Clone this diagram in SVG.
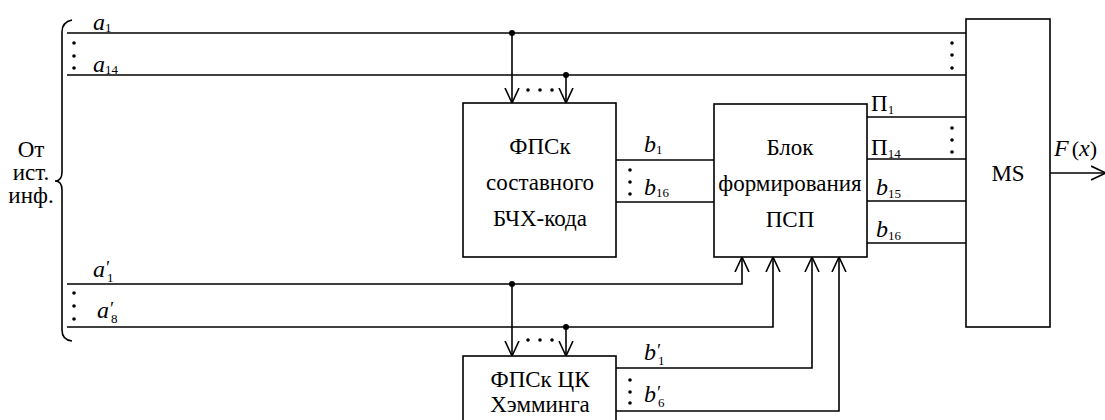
<svg xmlns="http://www.w3.org/2000/svg" width="1105" height="420" viewBox="0 0 1105 420">
<style>
.ln{fill:none;stroke:#000;stroke-width:1.6}
.box{fill:#fff;stroke:#000;stroke-width:1.6}
.t{font-family:"Liberation Serif","DejaVu Serif","Times New Roman",serif;font-size:23px;fill:#000}
.v{font-family:"Liberation Serif","DejaVu Serif","Times New Roman",serif;font-style:italic;font-size:24px;fill:#000}
.s{font-style:normal;font-size:13px}
.p{font-size:18px}
.d{fill:#000}
</style>
<defs>
<marker id="ar" viewBox="0 0 16 16" refX="15" refY="8" markerWidth="16" markerHeight="16" markerUnits="userSpaceOnUse" orient="auto">
<path d="M0,1 L15,8 L0,15" fill="none" stroke="#000" stroke-width="1.6"/>
</marker>
</defs>

<g id="brace">
<path class="ln" stroke-width="2" d="M72,20 Q62,22 62,32 L62,172 Q62,181 55,181 Q62,181 62,190 L62,330 Q62,340 72,341"/>
<text class="t" x="31" y="157" text-anchor="middle" font-size="22">От</text>
<text class="t" x="31" y="180" text-anchor="middle" font-size="22">ист.</text>
<text class="t" x="31" y="203" text-anchor="middle" font-size="22">инф.</text>
</g>

<g id="connectors">
<path class="ln" d="M67,33 H966"/>
<path class="ln" d="M67,75 H966"/>
<path class="ln" d="M512,33 V103" marker-end="url(#ar)"/>
<path class="ln" d="M566,75 V103" marker-end="url(#ar)"/>
<circle class="d" cx="512" cy="33" r="3"/>
<circle class="d" cx="566" cy="75" r="3"/>
<path class="ln" d="M616,160 H714"/>
<path class="ln" d="M616,202 H714"/>
<path class="ln" d="M867,117 H966"/>
<path class="ln" d="M867,159 H966"/>
<path class="ln" d="M867,201 H966"/>
<path class="ln" d="M867,243 H966"/>
<path class="ln" d="M67,284 H742 V257" marker-end="url(#ar)"/>
<path class="ln" d="M67,327 H773 V257" marker-end="url(#ar)"/>
<path class="ln" d="M512,284 V356" marker-end="url(#ar)"/>
<path class="ln" d="M566,327 V356" marker-end="url(#ar)"/>
<circle class="d" cx="512" cy="284" r="3"/>
<circle class="d" cx="566" cy="327" r="3"/>
<path class="ln" d="M616,368 H812 V257" marker-end="url(#ar)"/>
<path class="ln" d="M616,411 H839 V257" marker-end="url(#ar)"/>
<path class="ln" d="M1050,173 H1106" marker-end="url(#ar)"/>
</g>

<g id="dots">
<circle class="d" cx="74" cy="43" r="1.8"/><circle class="d" cx="74" cy="56" r="1.8"/><circle class="d" cx="74" cy="68" r="1.8"/>
<circle class="d" cx="74" cy="293" r="1.8"/><circle class="d" cx="74" cy="306" r="1.8"/><circle class="d" cx="74" cy="319" r="1.8"/>
<circle class="d" cx="952" cy="43" r="1.8"/><circle class="d" cx="952" cy="55" r="1.8"/><circle class="d" cx="952" cy="68" r="1.8"/>
<circle class="d" cx="952" cy="128" r="1.8"/><circle class="d" cx="952" cy="140" r="1.8"/><circle class="d" cx="952" cy="152" r="1.8"/>
<circle class="d" cx="630" cy="170" r="1.8"/><circle class="d" cx="630" cy="182" r="1.8"/><circle class="d" cx="630" cy="194" r="1.8"/>
<circle class="d" cx="630" cy="380" r="1.8"/><circle class="d" cx="630" cy="392" r="1.8"/><circle class="d" cx="630" cy="403" r="1.8"/>
<circle class="d" cx="528" cy="90" r="1.8"/><circle class="d" cx="540" cy="90" r="1.8"/><circle class="d" cx="552" cy="90" r="1.8"/>
<circle class="d" cx="528" cy="340" r="1.8"/><circle class="d" cx="540" cy="340" r="1.8"/><circle class="d" cx="552" cy="340" r="1.8"/>
</g>

<g id="labels">
<text class="v" x="93" y="30">a<tspan class="s" dy="2">1</tspan></text>
<text class="v" x="93" y="72">a<tspan class="s" dy="2">14</tspan></text>
<text class="v" x="93" y="277">a<tspan class="p" dy="-3">′</tspan><tspan class="s" dx="-2" dy="8">1</tspan></text>
<text class="v" x="97" y="318">a<tspan class="p" dy="-3">′</tspan><tspan class="s" dx="-2" dy="8">8</tspan></text>
<text class="v" x="644" y="152">b<tspan class="s" dy="2">1</tspan></text>
<text class="v" x="644" y="195">b<tspan class="s" dy="2">16</tspan></text>
<text class="v" x="644" y="360">b<tspan class="p" dy="-3">′</tspan><tspan class="s" dx="-2" dy="8">1</tspan></text>
<text class="v" x="644" y="402">b<tspan class="p" dy="-3">′</tspan><tspan class="s" dx="-2" dy="8">6</tspan></text>
<text class="t" x="871" y="111" font-size="22">П<tspan class="s" dy="3">1</tspan></text>
<text class="t" x="871" y="155" font-size="22">П<tspan class="s" dy="3">14</tspan></text>
<text class="v" x="876" y="195">b<tspan class="s" dy="3">15</tspan></text>
<text class="v" x="876" y="237">b<tspan class="s" dy="3">16</tspan></text>
<text class="v" x="1054" y="156" font-size="20">F<tspan font-style="normal" font-size="22" dx="3">(</tspan><tspan>x</tspan><tspan font-style="normal" font-size="22">)</tspan></text>
</g>

<g id="fpsk-bch">
<rect class="box" x="463" y="103" width="153" height="154"/>
<text class="t" x="540" y="154" text-anchor="middle">ФПСк</text>
<text class="t" x="540" y="190" text-anchor="middle">составного</text>
<text class="t" x="540" y="226" text-anchor="middle">БЧХ-кода</text>
</g>

<g id="block-psp">
<rect class="box" x="714" y="104" width="153" height="153"/>
<text class="t" x="790" y="155" text-anchor="middle">Блок</text>
<text class="t" x="790" y="191" text-anchor="middle">формирования</text>
<text class="t" x="790" y="227" text-anchor="middle">ПСП</text>
</g>

<g id="ms">
<rect class="box" x="966" y="19" width="84" height="308"/>
<text class="t" x="1008" y="181" text-anchor="middle" font-size="22">MS</text>
</g>

<g id="fpsk-hamming">
<rect class="box" x="463" y="356" width="153" height="70"/>
<text class="t" x="540" y="387" text-anchor="middle">ФПСк ЦК</text>
<text class="t" x="540" y="412" text-anchor="middle">Хэмминга</text>
</g>
</svg>
